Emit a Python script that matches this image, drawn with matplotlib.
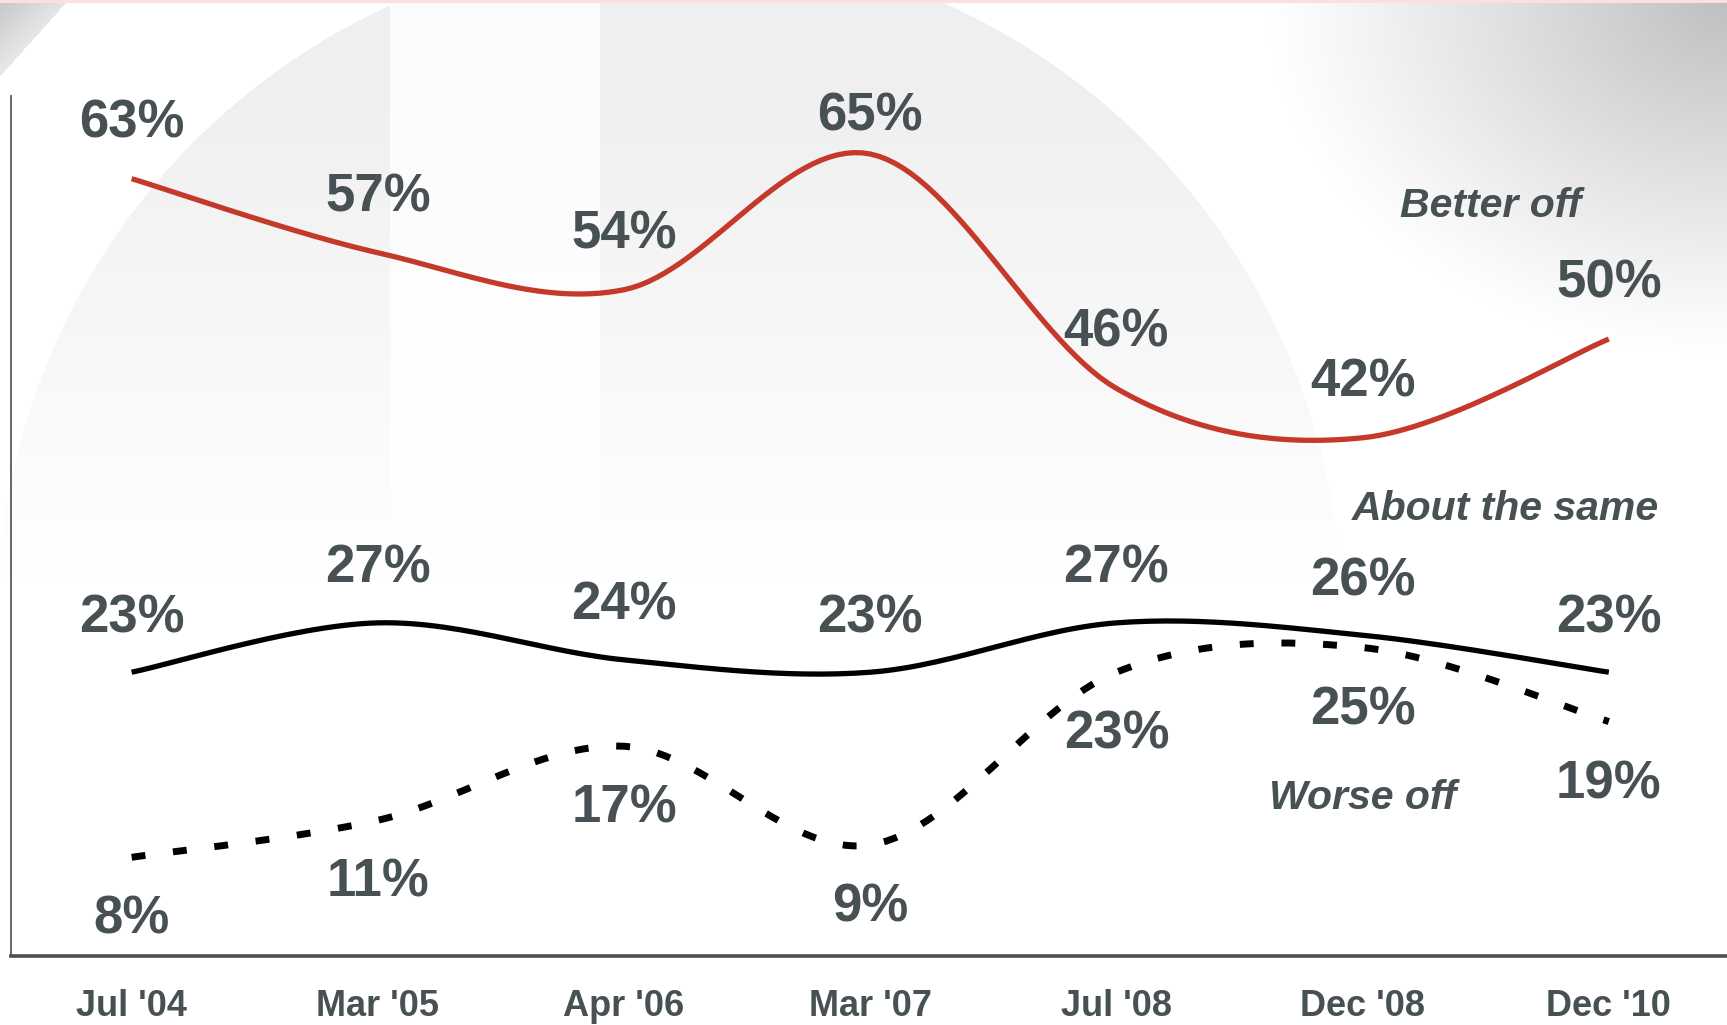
import numpy as np
import matplotlib
matplotlib.use("Agg")
import matplotlib.pyplot as plt

# ---------------- data ----------------
periods = ["Jul '04", "Mar '05", "Apr '06", "Mar '07", "Jul '08", "Dec '08", "Dec '10"]
better_off = [63, 57, 54, 65, 46, 42, 50]
about_same = [23, 27, 24, 23, 27, 26, 23]
worse_off = [8, 11, 17, 9, 23, 25, 19]
series_names = ["Better off", "About the same", "Worse off"]

# ---------------- style ----------------
W, H, DPI = 1727, 1025, 100
TEXT = "#475154"
RED = "#c4392a"
BOLD_FAM = ["Liberation Sans", "DejaVu Sans"]
NARROW_FAM = ["Liberation Sans Narrow", "Liberation Sans", "DejaVu Sans"]


def catmull_rom(xs, ys, n=30):
    p = np.column_stack([np.asarray(xs, float), np.asarray(ys, float)])
    P = np.vstack([p[0], p, p[-1]])
    out = []
    t = np.linspace(0, 1, n, endpoint=False)[:, None]
    for i in range(1, len(P) - 2):
        p0, p1, p2, p3 = P[i - 1], P[i], P[i + 1], P[i + 2]
        seg = 0.5 * ((2 * p1) + (-p0 + p2) * t + (2 * p0 - 5 * p1 + 4 * p2 - p3) * t ** 2
                     + (-p0 + 3 * p1 - 3 * p2 + p3) * t ** 3)
        out.append(seg)
    out.append(p[-1][None, :])
    a = np.vstack(out)
    return a[:, 0], a[:, 1]


fig = plt.figure(figsize=(W / DPI, H / DPI), dpi=DPI)

# ---------------- decorative background ----------------
yy, xx = np.mgrid[0:H, 0:W].astype(float)
bg = np.ones((H, W))
inside = (xx - 669) ** 2 + (yy - 616) ** 2 < 672 ** 2
fade = np.clip((580 - yy) / 480.0, 0, 1)
band = (xx > 389) & (xx < 600)
depth = np.where(band, 0.012, 0.06)
bg = np.where(inside, 1 - depth * fade, bg)
d = np.sqrt(((W - xx) * 1.0) ** 2 + (yy * 1.3) ** 2)
tr = np.clip(1 - d / 460.0, 0, 1)
bg = bg - 0.25 * tr ** 1.1
tl = (xx + yy * 0.9) < 68
bg = np.where(tl, 0.78 + 0.12 * (xx + yy) / 68.0, bg)
rgb = np.dstack([bg, bg, bg])
rgb[0:3, :, :] = [0.99, 0.88, 0.88]
fig.figimage(np.clip(rgb, 0, 1), xo=0, yo=0, origin="upper", zorder=-5)

# ---------------- main axes ----------------
ax = fig.add_axes([11 / W, 1 - 956 / H, 1 - 11 / W, (956 - 96) / H])
ax.set_zorder(5)
ax.patch.set_alpha(0)
x = np.arange(len(periods))
ax.set_xlim(-0.49, 6.48)
ax.set_ylim(0, 69.7)

xs, ys = catmull_rom(x, better_off)
ax.plot(xs, ys, color=RED, lw=3.8, solid_capstyle="butt", zorder=3)
xs, ys = catmull_rom(x, about_same)
ax.plot(xs, ys, color="black", lw=3.8, solid_capstyle="butt", zorder=3)
xs, ys = catmull_rom(x, worse_off)
ax.plot(xs, ys, color="black", lw=5, linestyle=(0, (2, 4)), dash_capstyle="butt", zorder=3)

lab_kw = dict(textcoords="offset points", ha="center", va="center", color=TEXT,
              fontsize=38, fontweight="bold", family=BOLD_FAM, zorder=4)
better_off_dy = [40, 40, 40, 27, 40, 40, 40]
for i, v in enumerate(better_off):
    ax.annotate(f"{v}%", (x[i], v), xytext=(0, better_off_dy[i]), **lab_kw)
for i, v in enumerate(about_same):
    ax.annotate(f"{v}%", (x[i], v), xytext=(0, 39), **lab_kw)
for i, v in enumerate(worse_off):
    ax.annotate(f"{v}%", (x[i], v), xytext=(0, -45), **lab_kw)

name_kw = dict(ha="center", va="center", color=TEXT, fontsize=29.5, fontweight="bold",
               fontstyle="italic", family=NARROW_FAM, zorder=4)
ax.text(5.52, 60.8, series_names[0], **name_kw)
ax.text(5.58, 36.2, series_names[1], **name_kw)
ax.text(5.00, 12.8, series_names[2], **name_kw)

for s in ["top", "right"]:
    ax.spines[s].set_visible(False)
ax.spines["left"].set_color("#555b5d")
ax.spines["left"].set_linewidth(1.3)
ax.spines["bottom"].set_color("#4a5052")
ax.spines["bottom"].set_linewidth(2.6)
ax.set_yticks([])
ax.set_xticks(x)
ax.set_xticklabels(periods, fontsize=26, fontweight="bold", family=NARROW_FAM, color=TEXT)
ax.tick_params(axis="x", length=0, pad=24)

fig.savefig("out.png", dpi=DPI)
